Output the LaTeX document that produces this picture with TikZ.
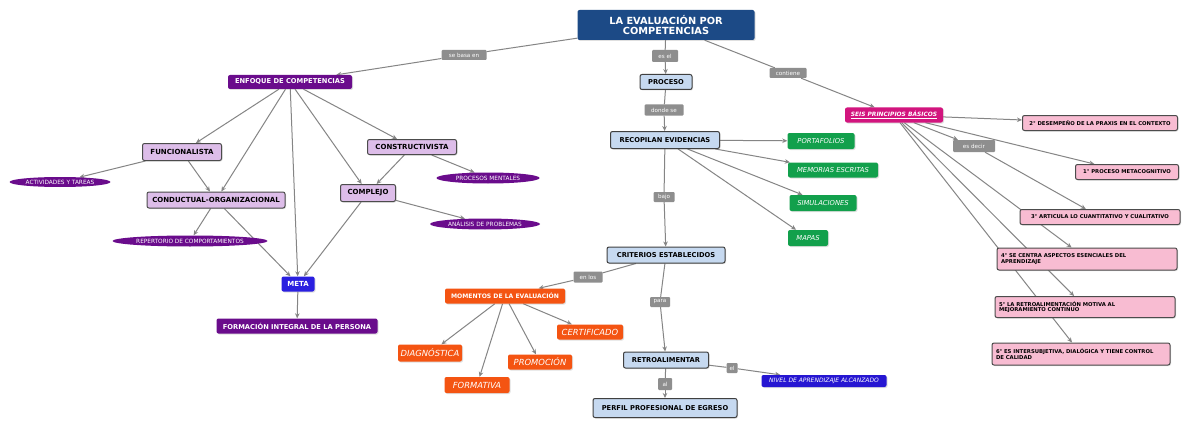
\documentclass[tikz,border=0pt]{standalone}
\usepackage{fontspec}
\setmainfont{DejaVu Sans}
\usetikzlibrary{arrows.meta,shapes.geometric,shadows}
\pgfdeclarelayer{background}
\pgfdeclarelayer{canvas}
\pgfsetlayers{canvas,background,main}
\definecolor{topblue}{HTML}{1C4A86}
\definecolor{lblue}{HTML}{C6D9F0}
\definecolor{dpurple}{HTML}{6A0C8C}
\definecolor{lpurple}{HTML}{DDBDE9}
\definecolor{metablue}{HTML}{2A1FE0}
\definecolor{ngreen}{HTML}{12A04C}
\definecolor{norange}{HTML}{F45412}
\definecolor{nivblue}{HTML}{2616D2}
\definecolor{magenta}{HTML}{D2157E}
\definecolor{pink}{HTML}{F8BCD2}
\definecolor{lgray}{HTML}{8E8E8E}
\definecolor{linegray}{HTML}{858585}
\newcommand{\fsz}[1]{\fontsize{#1}{#1}\selectfont}
\tikzset{
  base/.style={inner sep=1pt, align=center, rounded corners=2pt,
    drop shadow={opacity=0.25, shadow xshift=1pt, shadow yshift=-1pt}},
  bluebox/.style={base, fill=lblue, draw=black!75, line width=1pt, font=\bfseries\fsz{6.7}},
  purplebox/.style={base, fill=dpurple, text=white, font=\bfseries\fsz{6.7}},
  lpbox/.style={base, fill=lpurple, draw=black!70, line width=1pt, font=\bfseries\fsz{7}},
  oval/.style={ellipse, inner sep=0pt, fill=dpurple, text=white, font=\fsz{5.8}},
  greenbox/.style={base, fill=ngreen, text=white, font=\itshape\fsz{6.8}},
  orangebox/.style={base, fill=norange, text=white, font=\itshape\fsz{8.4}},
  pinkbox/.style={base, fill=pink, draw=black!70, line width=1pt, font=\bfseries\fsz{5.3}},
  glabel/.style={inner sep=0.5pt, fill=lgray, text=white, font=\fsz{5.6}, rounded corners=1pt},
  conn/.style={draw=linegray, line width=1pt},
  arr/.style={conn, -{Stealth[length=5pt,width=4.5pt]}},
}
\begin{document}
\begin{tikzpicture}[x=1pt,y=-1pt]
\useasboundingbox (0,0) rectangle (1187,428);
\begin{pgfonlayer}{canvas}
\fill[white] (0,0) rectangle (1187,428);
\end{pgfonlayer}
% top
\node[base, fill=topblue, text=white, font=\bfseries\fsz{9.8}, minimum width=177pt, minimum height=30pt] (top) at (666,25) {LA EVALUACIÓN POR\\COMPETENCIAS};
\node[glabel, minimum width=45pt, minimum height=10pt] (sebasa) at (464,55) {se basa en};
\node[glabel, minimum width=26pt, minimum height=12pt] (esel) at (665,56) {es el};
\node[glabel, minimum width=37pt, minimum height=10pt] (contiene) at (788,73) {contiene};
% left
\node[purplebox, minimum width=124pt, minimum height=14pt] (enfoque) at (290,82) {ENFOQUE DE COMPETENCIAS};
\node[lpbox, minimum width=79pt, minimum height=17pt] (func) at (182,152) {FUNCIONALISTA};
\node[oval, minimum width=101pt, minimum height=10pt] (activ) at (60,182) {ACTIVIDADES Y TAREAS};
\node[lpbox, minimum width=89pt, minimum height=15pt] (constr) at (412,147) {CONSTRUCTIVISTA};
\node[oval, minimum width=103pt, minimum height=11pt] (procm) at (488,178) {PROCESOS MENTALES};
\node[lpbox, minimum width=55pt, minimum height=17pt] (complejo) at (368,193) {COMPLEJO};
\node[oval, minimum width=110pt, minimum height=11pt] (analisis) at (485,224) {ANÁLISIS DE PROBLEMAS};
\node[lpbox, minimum width=138pt, minimum height=16pt] (conduct) at (216,200) {CONDUCTUAL-ORGANIZACIONAL};
\node[oval, minimum width=155pt, minimum height=11pt] (repert) at (190,241) {REPERTORIO DE COMPORTAMIENTOS};
\node[base, fill=metablue, text=white, font=\bfseries\fsz{7}, minimum width=33pt, minimum height=15pt] (meta) at (298,284) {META};
\node[purplebox, minimum width=161pt, minimum height=15pt] (formacion) at (297,326) {FORMACIÓN INTEGRAL DE LA PERSONA};
% center
\node[bluebox, minimum width=52pt, minimum height=15pt] (proceso) at (666,82) {PROCESO};
\node[glabel, minimum width=39pt, minimum height=11pt] (donde) at (664,110) {donde se};
\node[bluebox, minimum width=109pt, minimum height=17pt] (recop) at (665,140) {RECOPILAN EVIDENCIAS};
\node[glabel, minimum width=21pt, minimum height=10pt] (bajo) at (664,197) {bajo};
\node[bluebox, minimum width=118pt, minimum height=16pt] (criterios) at (666,255) {CRITERIOS ESTABLECIDOS};
\node[greenbox, minimum width=67pt, minimum height=16pt] (portaf) at (821,141) {PORTAFOLIOS};
\node[greenbox, minimum width=90pt, minimum height=15pt] (memorias) at (833,170) {MEMORIAS ESCRITAS};
\node[greenbox, minimum width=67pt, minimum height=16pt] (simul) at (823,203) {SIMULACIONES};
\node[greenbox, minimum width=40pt, minimum height=16pt] (mapas) at (808,238) {MAPAS};
\node[glabel, minimum width=29pt, minimum height=11pt] (enlos) at (588,277) {en los};
\node[base, fill=norange, text=white, font=\bfseries\fsz{6.1}, minimum width=120pt, minimum height=15pt] (momentos) at (505,296) {MOMENTOS DE LA EVALUACIÓN};
\node[orangebox, minimum width=66pt, minimum height=15pt] (certif) at (590,332) {CERTIFICADO};
\node[orangebox, minimum width=64pt, minimum height=17pt] (diagn) at (430,353) {DIAGNÓSTICA};
\node[orangebox, minimum width=64pt, minimum height=15pt] (promo) at (540,362) {PROMOCIÓN};
\node[orangebox, minimum width=65pt, minimum height=16pt] (format) at (477,385) {FORMATIVA};
\node[glabel, minimum width=20pt, minimum height=10pt] (para) at (660,302) {para};
\node[bluebox, minimum width=85pt, minimum height=16pt] (retro) at (666,360) {RETROALIMENTAR};
\node[glabel, minimum width=11pt, minimum height=10pt] (el) at (732,368) {el};
\node[base, fill=nivblue, text=white, font=\itshape\fsz{6}, minimum width=125pt, minimum height=12pt] (nivel) at (824,381) {NIVEL DE APRENDIZAJE ALCANZADO};
\node[glabel, minimum width=14pt, minimum height=12pt] (al) at (665,384) {al};
\node[bluebox, minimum width=144pt, minimum height=19pt] (perfil) at (665,408) {PERFIL PROFESIONAL DE EGRESO};
% right
\node[base, fill=magenta, text=white, font=\bfseries\itshape\fsz{5.9}, minimum width=98pt, minimum height=15pt] (seis) at (894,115) {\underline{SEIS PRINCIPIOS BÁSICOS}};
\node[pinkbox, minimum width=155pt, minimum height=15pt] (p2) at (1100,123) {2° DESEMPEÑO DE LA PRAXIS EN EL CONTEXTO};
\node[glabel, minimum width=42pt, minimum height=12pt] (esdecir) at (974,146) {es decir};
\node[pinkbox, minimum width=103pt, minimum height=15pt] (p1) at (1127,172) {1° PROCESO METACOGNITIVO};
\node[pinkbox, minimum width=160pt, minimum height=15pt] (p3) at (1100,217) {3° ARTICULA LO CUANTITATIVO Y CUALITATIVO};
\node[pinkbox, minimum width=180pt, minimum height=22pt, align=left, text width=172pt] (p4) at (1087,259) {4° SE CENTRA ASPECTOS ESENCIALES DEL\\APRENDIZAJE};
\node[pinkbox, minimum width=180pt, minimum height=21pt, align=left, text width=172pt] (p5) at (1085,307) {5° LA RETROALIMENTACIÓN MOTIVA AL\\MEJORAMIENTO CONTINUO};
\node[pinkbox, minimum width=178pt, minimum height=22pt, align=left, text width=170pt] (p6) at (1081,354) {6° ES INTERSUBJETIVA, DIALÓGICA Y TIENE CONTROL\\DE CALIDAD};
% connectors
\begin{pgfonlayer}{background}
\draw[conn] (top) -- (sebasa);
\draw[arr] (sebasa) -- (enfoque);
\draw[conn] (top) -- (esel);
\draw[arr] (esel) -- (proceso);
\draw[conn] (top) -- (contiene);
\draw[arr] (contiene) -- (seis);
\draw[arr] (enfoque) -- (func);
\draw[arr] (enfoque) -- (conduct);
\draw[arr] (enfoque) -- (meta);
\draw[arr] (enfoque) -- (complejo);
\draw[arr] (enfoque) -- (constr);
\draw[arr] (func) -- (activ);
\draw[arr] (func) -- (conduct);
\draw[arr] (constr) -- (procm);
\draw[arr] (constr) -- (complejo);
\draw[arr] (complejo) -- (analisis);
\draw[arr] (complejo) -- (meta);
\draw[arr] (conduct) -- (repert);
\draw[arr] (conduct) -- (meta);
\draw[arr] (meta) -- (formacion);
\draw[conn] (proceso) -- (donde);
\draw[arr] (donde) -- (recop);
\draw[arr] (recop) -- (portaf);
\draw[arr] (recop) -- (memorias);
\draw[arr] (recop) -- (simul);
\draw[arr] (recop) -- (mapas);
\draw[conn] (recop) -- (bajo);
\draw[arr] (bajo) -- (criterios);
\draw[conn] (criterios) -- (enlos);
\draw[arr] (enlos) -- (momentos);
\draw[conn] (criterios) -- (para);
\draw[arr] (para) -- (retro);
\draw[arr] (momentos) -- (diagn);
\draw[arr] (momentos) -- (format);
\draw[arr] (momentos) -- (promo);
\draw[arr] (momentos) -- (certif);
\draw[conn] (retro) -- (el);
\draw[arr] (el) -- (nivel);
\draw[conn] (retro) -- (al);
\draw[arr] (al) -- (perfil);
\draw[arr] (seis) -- (p2);
\draw[arr] (seis) -- (p1);
\draw[arr] (seis) -- (esdecir);
\draw[arr] (esdecir) -- (p3);
\draw[arr] (seis) -- (p4);
\draw[arr] (seis) -- (p5);
\draw[arr] (seis) -- (p6);
\end{pgfonlayer}
\end{tikzpicture}
\end{document}
